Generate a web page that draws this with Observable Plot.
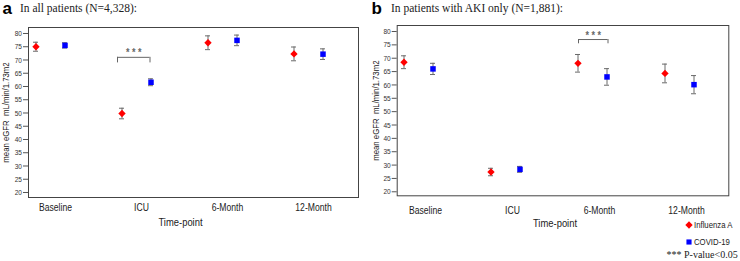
<!DOCTYPE html>
<html><head><meta charset="utf-8">
<script src="https://cdn.jsdelivr.net/npm/d3@7"></script>
<script src="https://cdn.jsdelivr.net/npm/@observablehq/plot@0.6"></script>
<style>
body{margin:0;background:#fff;}
#root{position:relative;width:740px;height:261px;overflow:hidden;background:#fff;}
.abs{position:absolute;white-space:nowrap;}
.serif{font-family:"Liberation Serif","Times New Roman",serif;color:#222;}
.bold{font-family:"Liberation Sans",Arial,sans-serif;font-weight:bold;color:#000;}
svg{position:absolute;top:0;}
</style></head><body><div id="root"></div>
<script>
const timepoints = ["Baseline", "ICU", "6-Month", "12-Month"];
const seriesNames = ["Influenza A", "COVID-19"];
const yTicks = [20, 25, 30, 35, 40, 45, 50, 55, 60, 65, 70, 75, 80];

// Panel a: all patients (N=4,328)
const allFluMean = [75.0, 49.8, 76.5, 72.3];
const allFluErr  = [1.7, 2.0, 2.6, 2.6];
const allCovMean = [75.5, 61.6, 77.4, 72.2];
const allCovErr  = [1.0, 1.3, 2.0, 2.0];
const allSig = {time: "ICU", top: 71.0, bottom: 68.9};

// Panel b: AKI only (N=1,881)
const akiFluMean = [68.5, 27.4, 68.1, 64.3];
const akiFluErr  = [2.4, 1.4, 3.3, 3.5];
const akiCovMean = [66.0, 28.4, 63.0, 60.1];
const akiCovErr  = [2.1, 1.1, 3.1, 3.4];
const akiSig = {time: "6-Month", top: 77.0, bottom: 75.4};

const red = "#ff0000", blue = "#0000ff", errCol = "#6a6a6a";
const sansFont = '"Liberation Sans",Arial,sans-serif';
const NARROW = 0.82; // horizontal squeeze to mimic a narrow sans face

function rows(means, errs) {
  return timepoints.map((t, i) => ({t, m: means[i], lo: means[i] - errs[i], hi: means[i] + errs[i]}));
}

function narrowTexts(svg) {
  svg.querySelectorAll("text").forEach((t) => {
    const tr = t.getAttribute("transform") || "";
    t.setAttribute("transform", tr + ` scale(${NARROW},1)`);
  });
}

function panel(o) {
  const flu = rows(o.fluMean, o.fluErr);
  const cov = rows(o.covMean, o.covErr);
  const off = 14.5;
  const errMarks = (data, dx) => [
    Plot.ruleX(data, {x: "t", y1: "lo", y2: "hi", dx, stroke: errCol, strokeWidth: 1}),
    Plot.ruleY(data, {x1: "t", x2: "t", y: "lo", dx, insetLeft: -2.5, insetRight: -2.5, stroke: errCol}),
    Plot.ruleY(data, {x1: "t", x2: "t", y: "hi", dx, insetLeft: -2.5, insetRight: -2.5, stroke: errCol})
  ];
  const sig = [o.sig];
  const svg = Plot.plot({
    width: 370, height: 261,
    marginLeft: o.ml, marginRight: o.mr, marginTop: o.mt, marginBottom: o.mb,
    style: {fontFamily: sansFont, fontSize: "8px", color: "#333", background: "transparent", overflow: "visible"},
    x: {type: "point", domain: timepoints, range: o.xr, padding: 0},
    y: {domain: o.yd},
    marks: [
      Plot.frame({stroke: "#444", strokeWidth: 1}),
      Plot.axisY({ticks: yTicks, tickSize: 5, tickPadding: 1.5, fontSize: 8, stroke: "#555", fill: "#333", label: null}),
      Plot.axisX({tickSize: 0, tickPadding: o.xpad, dx: o.xdx, fontSize: 10.5, label: null, fill: "#222"}),
      Plot.text(["Time-point"], {frameAnchor: "bottom", dx: o.tdx, dy: o.tdy, lineAnchor: "middle", fontSize: 11.5, fill: "#222"}),
      Plot.text(["mean eGFR  mL/min/1.73m2"], {frameAnchor: "left", dx: o.ydx, rotate: -90, textAnchor: "middle", lineAnchor: "middle", fontSize: 9.5, fill: "#222"}),
      // significance bracket
      Plot.ruleY(sig, {x1: "time", x2: "time", y: "top", insetLeft: o.bl, insetRight: -o.br, stroke: "#666"}),
      Plot.ruleX(sig, {x: "time", y1: "bottom", y2: "top", dx: o.bl, stroke: "#666"}),
      Plot.ruleX(sig, {x: "time", y1: "bottom", y2: "top", dx: o.br, stroke: "#666"}),
      Plot.text(sig, {x: "time", y: "top", text: () => "* * *", dx: (o.bl + o.br) / 2, dy: -4.5, fontSize: 11, fill: "#666", fontWeight: "bold"}),
      ...errMarks(flu, -off),
      ...errMarks(cov, off),
      Plot.dot(flu, {x: "t", y: "m", dx: -off, symbol: "diamond2", r: 3.3, fill: red, stroke: "none"}),
      Plot.dot(cov, {x: "t", y: "m", dx: off, symbol: "square", r: 3.1, fill: blue, stroke: "none"})
    ]
  });
  narrowTexts(svg);
  return svg;
}

const root = document.getElementById("root");

const a = panel({
  fluMean: allFluMean, fluErr: allFluErr, covMean: allCovMean, covErr: allCovErr, sig: allSig,
  ml: 28, mr: 12, mt: 27, mb: 64, yd: [18.11, 82.26], xr: [48.5, 309],
  xpad: 6.5, xdx: 5, tdx: -13, tdy: 24.7, ydx: -23, bl: -19, br: 13.5
});
a.style.left = "0px";
root.appendChild(a);

const b = panel({
  fluMean: akiFluMean, fluErr: akiFluErr, covMean: akiCovMean, covErr: akiCovErr, sig: akiSig,
  ml: 26.7, mr: 11.7, mt: 25, mb: 65.7, yd: [18.5, 82.25], xr: [47.2, 308.8],
  xpad: 10.5, xdx: 7, tdx: -8, tdy: 28, ydx: -21.7, bl: -14, br: 15.5
});
b.style.left = "370px";
root.appendChild(b);

function addText(txt, cls, left, top, size) {
  const d = document.createElement("div");
  d.className = "abs " + cls;
  d.style.left = left + "px";
  d.style.top = top + "px";
  d.style.fontSize = size + "px";
  d.style.lineHeight = size + "px";
  d.textContent = txt;
  root.appendChild(d);
  return d;
}

addText("a", "bold", 2.5, -0.5, 17);
addText("In all patients (N=4,328):", "serif", 20, 3.2, 11.5);
addText("b", "bold", 371.5, -0.5, 17);
addText("In patients with AKI only (N=1,881):", "serif", 391, 3.2, 11.5);

// legend
const NS = "http://www.w3.org/2000/svg";
const legend = document.createElementNS(NS, "svg");
legend.setAttribute("width", 740); legend.setAttribute("height", 261);
legend.style.left = "0px"; legend.style.pointerEvents = "none";
root.appendChild(legend);
const lsym = [
  {name: seriesNames[0], y: 225, color: red, sym: d3.symbol(d3.symbolDiamond2, Math.PI * 3.3 * 3.3)},
  {name: seriesNames[1], y: 242, color: blue, sym: d3.symbol(d3.symbolSquare, Math.PI * 2.9 * 2.9)}
];
for (const l of lsym) {
  const p = document.createElementNS(NS, "path");
  p.setAttribute("d", l.sym());
  p.setAttribute("transform", `translate(689,${l.y})`);
  p.setAttribute("fill", l.color);
  legend.appendChild(p);
  const t = document.createElementNS(NS, "text");
  t.setAttribute("transform", `translate(694,${l.y}) scale(${NARROW},1)`);
  t.setAttribute("dy", "0.35em");
  t.setAttribute("font-size", "9.5");
  t.setAttribute("fill", "#222");
  t.setAttribute("font-family", sansFont);
  t.textContent = l.name;
  legend.appendChild(t);
}
const pv = document.createElementNS(NS, "text");
pv.setAttribute("x", 666.5); pv.setAttribute("y", 257.5);
pv.setAttribute("font-size", "10");
pv.setAttribute("fill", "#222");
pv.setAttribute("font-family", '"Liberation Serif","Times New Roman",serif');
pv.textContent = "*** P-value<0.05";
legend.appendChild(pv);
</script></body></html>
